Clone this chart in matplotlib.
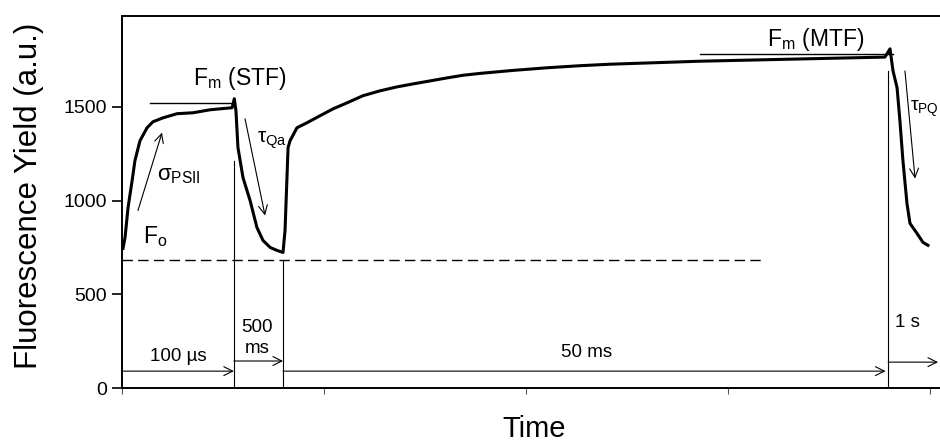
import matplotlib
matplotlib.use("Agg")
import matplotlib.pyplot as plt

plt.rcParams['font.family'] = ['Liberation Sans', 'DejaVu Sans']
plt.rcParams['mathtext.fontset'] = 'custom'
plt.rcParams['mathtext.rm'] = 'Liberation Sans'
plt.rcParams['mathtext.it'] = 'Liberation Sans:italic'
plt.rcParams['mathtext.default'] = 'regular'

# Fluorescence trace (time axis in arbitrary concatenated units)
time = [0.005, 0.015, 0.030, 0.050, 0.064, 0.089, 0.124, 0.153, 0.203, 0.272,
        0.351, 0.436, 0.545, 0.556,
        0.564, 0.574, 0.599, 0.634, 0.668, 0.698, 0.733, 0.767, 0.797,
        0.807, 0.817, 0.822, 0.832, 0.866, 0.916, 0.980, 1.045, 1.114, 1.193,
        1.277, 1.361, 1.441, 1.525, 1.609, 1.688, 1.772, 1.936, 2.104, 2.267,
        2.416, 2.861, 3.356, 3.777, 3.802,
        3.817, 3.837, 3.851, 3.866, 3.886, 3.901, 3.936, 3.965, 3.990]
yield_fl = [745, 803, 963, 1106, 1213, 1319, 1388, 1420, 1441, 1463,
            1468, 1484, 1495, 1543,
            1479, 1282, 1122, 1000, 856, 787, 750, 734, 723,
            840, 1133, 1282, 1319, 1388, 1415, 1452, 1489, 1521, 1559,
            1585, 1606, 1622, 1638, 1654, 1668, 1678, 1694, 1708, 1719,
            1727, 1743, 1755, 1765, 1809,
            1691, 1601, 1426, 1213, 984, 878, 824, 777, 761]

# phase boundaries (x) and their line tops (y)
phase_x = [0.554, 0.797, 3.793]
phase_top = [1213, 681, 1691]
fo_level = 681
fm_stf = 1518
fm_mtf = 1782

fig = plt.figure(figsize=(9.4, 4.44), dpi=100)
ax = fig.add_axes([0.1298, 0.1261, 0.8702, 0.8378])
ax.set_xlim(0, 4.0495)
ax.set_ylim(0, 1984)

ax.plot(time, yield_fl, color='black', lw=2.2, solid_joinstyle='round')

# guide lines
ax.plot([0, 3.168], [fo_level, fo_level], color='black', lw=1.0, dashes=(7.5, 3.8))
for x, top in zip(phase_x, phase_top):
    ax.plot([x, x], [0, top], color='black', lw=0.8)
ax.plot([0.139, 0.550], [fm_stf, fm_stf], color='black', lw=1.0)
ax.plot([2.861, 3.817], [fm_mtf, fm_mtf], color='black', lw=1.0)

arrow = dict(arrowstyle='->', lw=0.8, shrinkA=0, shrinkB=0, mutation_scale=16)

def arr(x0, y0, x1, y1):
    ax.annotate('', xy=(x1, y1), xytext=(x0, y0), arrowprops=arrow)

# kinetic arrows
arr(0.079, 947, 0.198, 1362)
arr(0.609, 1436, 0.708, 920)
arr(3.876, 1691, 3.926, 1117)

# duration arrows
arr(0.0, 90, 0.554, 90)
arr(0.554, 144, 0.797, 144)
arr(0.797, 90, 3.78, 90)
arr(3.793, 138, 4.04, 138)

fs = 13.5
ax.text(0.351, 1617, r'F$_\mathrm{m}$ (STF)', fontsize=16.5, va='baseline')
ax.text(3.193, 1824, r'F$_\mathrm{m}$ (MTF)', fontsize=16.5, va='baseline')
ax.text(0.173, 1106, r'$\sigma_\mathrm{PSII}$', fontsize=16, va='baseline')
ax.text(0.104, 771, r'F$_\mathrm{o}$', fontsize=16.5, va='baseline')
ax.text(0.668, 1309, r'$\tau_\mathrm{Qa}$', fontsize=15, va='baseline')
ax.text(3.901, 1479, r'$\tau_\mathrm{PQ}$', fontsize=14, va='baseline', clip_on=False)
ax.text(0.277, 144, '100 µs', fontsize=fs, va='baseline', ha='center')
ax.text(0.668, 298, '500', fontsize=fs, va='baseline', ha='center')
ax.text(0.668, 186, 'ms', fontsize=fs, va='baseline', ha='center')
ax.text(2.302, 165, '50 ms', fontsize=fs, va='baseline', ha='center')
ax.text(3.827, 324, '1 s', fontsize=fs, va='baseline')

ax.set_yticks([0, 500, 1000, 1500])
ax.set_xticks([0, 1, 2, 3, 4])
ax.set_xticklabels([])
ax.tick_params(axis='y', direction='out', length=7, width=1.2, labelsize=14, pad=4)
ax.tick_params(axis='x', direction='out', length=4, width=0.8, color='#555555')
ax.spines['right'].set_visible(False)
for s in ['left', 'bottom', 'top']:
    ax.spines[s].set_linewidth(1.4)

fig.text(0.031, 0.559, 'Fluorescence Yield (a.u.)', rotation=90, fontsize=22.5,
         ha='center', va='center')
fig.text(0.568, 0.003, 'Time', fontsize=21, ha='center', va='bottom')

fig.savefig('out.png', dpi=100)
